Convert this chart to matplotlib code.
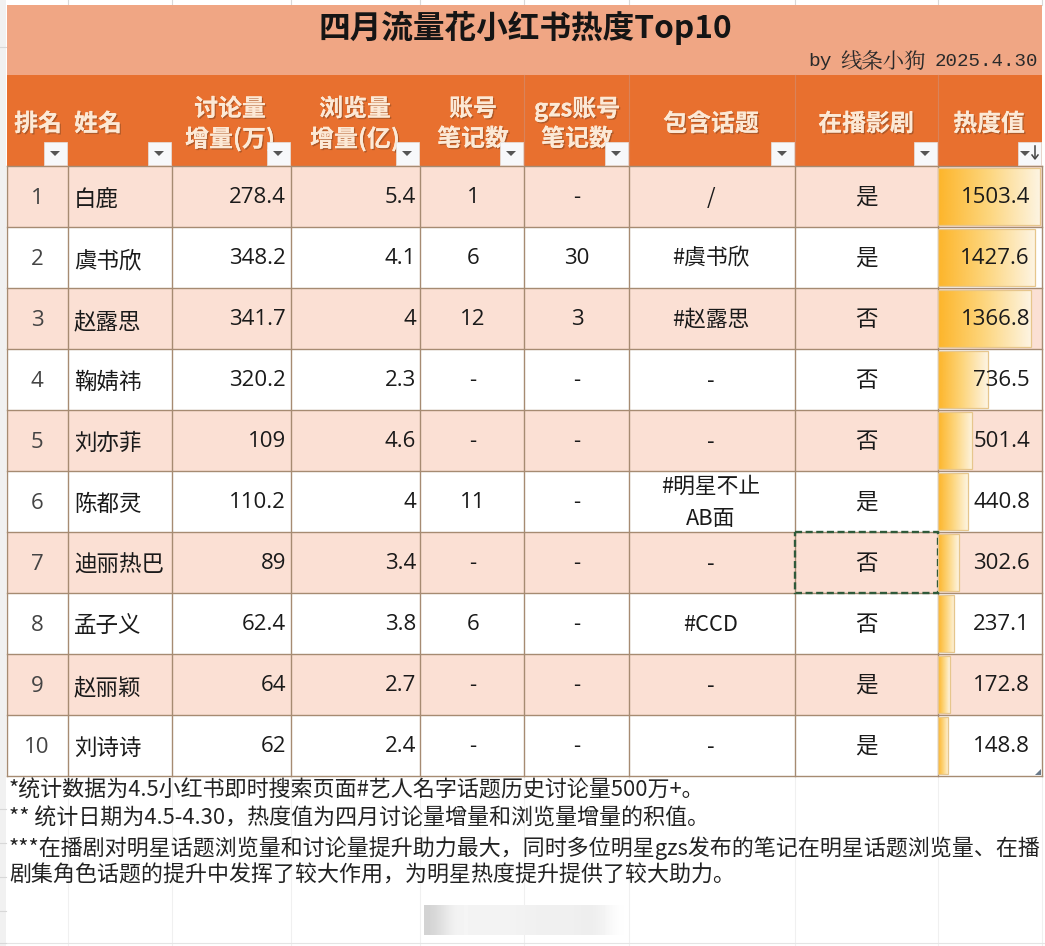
import numpy as np
import matplotlib
matplotlib.use("Agg")
import matplotlib.pyplot as plt
from matplotlib.patches import Rectangle, Polygon
from matplotlib.colors import LinearSegmentedColormap
import matplotlib.patheffects as pe

CJK = "Noto Sans CJK JP"
SERIF = "Noto Serif CJK JP"
LAT = "Open Sans"
plt.rcParams["font.family"] = [CJK]

W, H = 1045, 946
title = "四月流量花小红书热度Top10"
byline = ["by", "线条小狗", "2025.4.30"]
headers = ["排名", "姓名", "讨论量\n增量(万)", "浏览量\n增量(亿)", "账号\n笔记数", "gzs账号\n笔记数", "包含话题", "在播影剧", "热度值"]
ranks = ["1", "2", "3", "4", "5", "6", "7", "8", "9", "10"]
names = ["白鹿", "虞书欣", "赵露思", "鞠婧祎", "刘亦菲", "陈都灵", "迪丽热巴", "孟子义", "赵丽颖", "刘诗诗"]
discussion = ["278.4", "348.2", "341.7", "320.2", "109", "110.2", "89", "62.4", "64", "62"]
views = ["5.4", "4.1", "4", "2.3", "4.6", "4", "3.4", "3.8", "2.7", "2.4"]
notes = ["1", "6", "12", "-", "-", "11", "-", "6", "-", "-"]
gzs_notes = ["-", "30", "3", "-", "-", "-", "-", "-", "-", "-"]
topics = ["/", "#虞书欣", "#赵露思", "-", "-", "#明星不止\nAB面", "-", "#CCD", "-", "-"]
airing = ["是", "是", "否", "否", "否", "是", "否", "否", "是", "是"]
heat = [1503.4, 1427.6, 1366.8, 736.5, 501.4, 440.8, 302.6, 237.1, 172.8, 148.8]
footnotes = [
    "*统计数据为4.5小红书即时搜索页面#艺人名字话题历史讨论量500万+。",
    "** 统计日期为4.5-4.30，热度值为四月讨论量增量和浏览量增量的积值。",
    "***在播剧对明星话题浏览量和讨论量提升助力最大，同时多位明星gzs发布的笔记在明星话题浏览量、在播",
    "剧集角色话题的提升中发挥了较大作用，为明星热度提升提供了较大助力。",
]

col_x = [7, 68, 172, 291, 420, 524, 629, 795, 938, 1042]
row_h = 61
y_title, y_head, y_body = 5, 75, 166
y_end = y_body + row_h * len(ranks)
ORANGE, BAND, TINT, LINE = "#E8702F", "#F0A684", "#FBE0D4", "#A68B72"
TXT = "#1A1A1A"

fig = plt.figure(figsize=(W / 100, H / 100), dpi=100, facecolor="white")
ax = fig.add_axes([0, 0, 1, 1])
ax.set_xlim(0, W)
ax.set_ylim(H, 0)
ax.axis("off")

# spreadsheet surroundings
ax.add_patch(Rectangle((0, 0), 6, H, fc="#F1F1F1", ec="none", zorder=0))
for x in col_x[1:]:
    ax.plot([x, x], [0, 5], color="#D8D8D8", lw=0.8, zorder=0)
    ax.plot([x, x], [y_end, H], color="#F0F0F0", lw=0.8, zorder=0)
for y in [47, 809, 843, 877, 911, 943]:
    ax.plot([0, 6], [y, y], color="#D8D8D8", lw=0.8, zorder=1)
ax.plot([7, W], [943, 943], color="#E4E4E4", lw=0.8, zorder=0)

# bands
ax.add_patch(Rectangle((7, y_title), 1035, y_head - y_title, fc=BAND, ec="none", zorder=1))
ax.add_patch(Rectangle((7, y_head), 1035, y_body - y_head, fc=ORANGE, ec="none", zorder=1))
for i in range(0, len(ranks), 2):
    ax.add_patch(Rectangle((7, y_body + i * row_h), 1035, row_h, fc=TINT, ec="none", zorder=1))

# grid
for k in range(len(ranks) + 1):
    y = y_body + k * row_h
    ax.plot([7, 1042], [y, y], color=LINE, lw=1.0, zorder=3)
for x in col_x:
    ax.plot([x, x], [y_body, y_end], color=LINE, lw=1.0, zorder=3)
for x in col_x[5:-1]:
    ax.plot([x, x], [y_head, y_body], color="#D9835A", lw=0.8, zorder=2)

ax.text(525, 28, title, ha="center", va="center", fontsize=22.8, fontweight="bold",
        color="#151515", zorder=5)
ax.text(808, 62, byline[0], ha="left", va="center", fontsize=14, color="#2A2A2A",
        family="Liberation Mono", zorder=5)
ax.text(840, 62, byline[1], ha="left", va="center", fontsize=15.4, color="#2A2A2A",
        family=[SERIF, CJK], zorder=5)
ax.text(1038, 62, byline[2], ha="right", va="center", fontsize=13.8, color="#2A2A2A",
        family="Liberation Mono", zorder=5)

# header labels
shadow = [pe.withSimplePatchShadow(offset=(1, -1), shadow_rgbFace="#8A4A25", alpha=0.6), pe.Normal()]
head_x = [38, 98, 230, 355, 473, 577, 711, 866, 989]
HFS = 17.2
for x, label in zip(head_x, headers):
    if "\n" in label:
        a, b = label.split("\n")
        for yy, s in ((108, a), (138, b)):
            ax.text(x, yy + 1, s, ha="center", va="center", fontsize=HFS, fontweight="bold",
                    color="#FCE9D6", path_effects=shadow, zorder=5)
    else:
        ax.text(x, 124, label, ha="center", va="center", fontsize=HFS, fontweight="bold",
                color="#FCE9D6", path_effects=shadow, zorder=5)

# filter buttons
for n, x in enumerate(col_x[1:]):
    left = x - 24
    ax.add_patch(Rectangle((left, 142), 23, 23, fc="#F7F8FA", ec="#E3E3E3", lw=0.5, zorder=6))
    cx = left + 11 if n < 8 else left + 7
    cy = 153
    ax.add_patch(Polygon([(cx - 5, cy - 2), (cx + 5, cy - 2), (cx, cy + 3)], fc="#555555", ec="none", zorder=7))
    if n == 8:
        ax.plot([left + 17, left + 17], [146, 158], color="#444444", lw=1.1, zorder=7)
        ax.plot([left + 14, left + 17, left + 20], [155, 159, 155], color="#444444", lw=1.1, zorder=7)

# body text
FS = 16.0
CFS = 16.2
for i in range(len(ranks)):
    yc = y_body + (i + 0.5) * row_h + 1
    ax.text(37, yc + 1, ranks[i], ha="center", va="center", fontsize=FS, color="#444444", family=LAT, zorder=5)
    ax.text(74, yc + 2, names[i], ha="left", va="center", fontsize=CFS, color=TXT, zorder=5)
    ax.text(286, yc, discussion[i], ha="right", va="center", fontsize=FS, color=TXT, family=LAT, zorder=5)
    ax.text(416, yc, views[i], ha="right", va="center", fontsize=FS, color=TXT, family=LAT, zorder=5)
    ax.text(473, yc, notes[i], ha="center", va="center", fontsize=FS, color=TXT, family=LAT, zorder=5)
    ax.text(577, yc, gzs_notes[i], ha="center", va="center", fontsize=FS, color=TXT, family=LAT, zorder=5)
    if "\n" in topics[i]:
        a, b = topics[i].split("\n")
        ax.text(711, yc - 16, a, ha="center", va="center", fontsize=CFS - 0.5, color=TXT, zorder=5)
        ax.text(711, yc + 16, b, ha="center", va="center", fontsize=CFS - 0.5, color=TXT, zorder=5)
    else:
        ax.text(711, yc, topics[i], ha="center", va="center", fontsize=CFS - 0.5, color=TXT, zorder=5)
    ax.text(866, yc, airing[i], ha="center", va="center", fontsize=CFS, color=TXT, zorder=5)

# selected cell
ax.add_patch(Rectangle((795, y_body + 6 * row_h), 143, row_h, fc="none", ec="#2F5A3A",
                       lw=1.7, ls=(0, (3, 1.5)), zorder=6))
# resize handle
ax.add_patch(Polygon([(1041, 769), (1041, 775), (1035, 775)], fc="#6A7A8A", ec="none", zorder=6))

# footnotes
for y, line in zip([791, 819, 848, 876], footnotes):
    ax.text(9, y, line, ha="left", va="center", fontsize=15.8, color="#222222", zorder=5)

# blurred watermark
ramp = np.array([[0.82, 0.97, 0.95, 0.96, 0.95, 0.94, 0.94, 0.94, 0.92, 1.0]])
ax.imshow(ramp, extent=(424, 626, 935, 905), cmap="gray", vmin=0, vmax=1,
          interpolation="bicubic", aspect="auto", zorder=1)
ax.set_xlim(0, W)
ax.set_ylim(H, 0)

# heat bars on their own value scale
xmax = max(heat) * 104 / 102
bx = fig.add_axes([col_x[8] / W, 1 - y_end / H, (col_x[9] - col_x[8]) / W, (y_end - y_body) / H], zorder=2)
bx.patch.set_alpha(0)
bx.axis("off")
grad = np.linspace(0, 1, 256)[None, :]
cmap = LinearSegmentedColormap.from_list("bar", ["#FDB52A", "#FDD67E", "#FDF4E2"])
bx.barh(np.arange(len(heat)) + 0.5, heat, height=0.92, color="none",
        edgecolor="#E6C68C", linewidth=0.9, zorder=3)
for i, v in enumerate(heat):
    bx.imshow(grad, extent=(0, v, i + 0.96, i + 0.04), cmap=cmap, aspect="auto", zorder=2)
    bx.text(xmax * 92 / 104, i + 0.52, f"{v:.1f}", ha="right", va="center",
            fontsize=FS, color=TXT, family=LAT, zorder=5)
bx.set_xlim(0, xmax)
bx.set_ylim(len(heat), 0)

fig.savefig("out.png", dpi=100)
